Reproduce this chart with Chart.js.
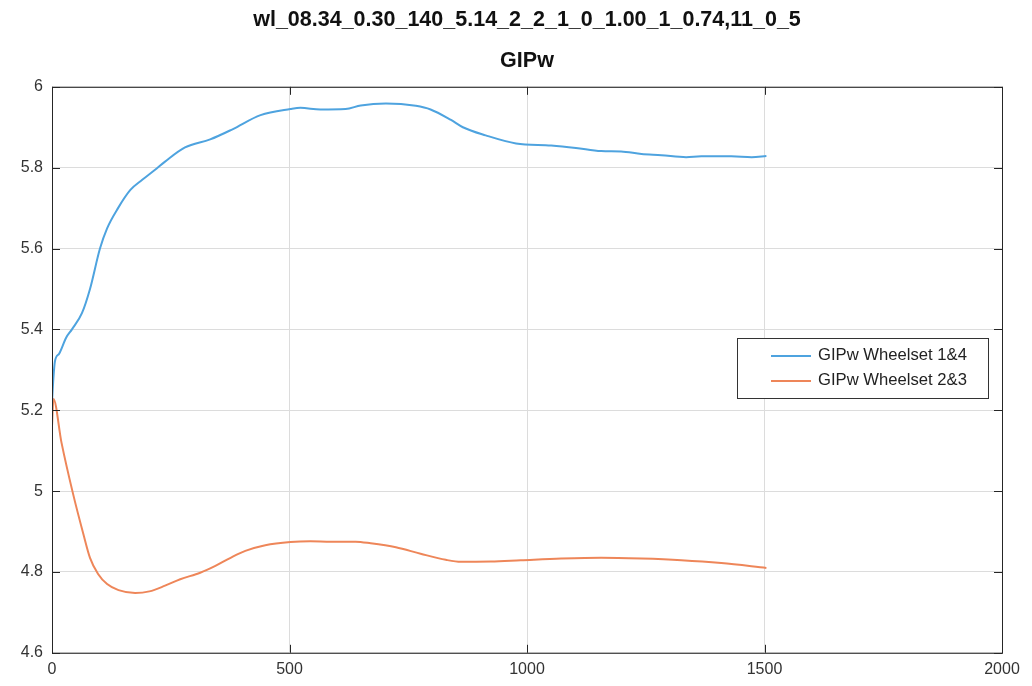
<!DOCTYPE html>
<html>
<head>
<meta charset="utf-8">
<script src="https://cdn.jsdelivr.net/npm/chart.js@4"></script>
<style>
  html, body { margin: 0; padding: 0; background: #fff; }
  #wrap { width: 1032px; height: 686px; }
</style>
</head>
<body>
<div id="wrap"><canvas id="graph" width="1032" height="686"></canvas></div>
<script>
// values
const titleLines = ["wl_08.34_0.30_140_5.14_2_2_1_0_1.00_1_0.74,11_0_5", "GIPw"];
const seriesNames = ["GIPw Wheelset 1&4", "GIPw Wheelset 2&3"];
const xTicks = [0, 500, 1000, 1500, 2000];
const yTicks = [4.6, 4.8, 5, 5.2, 5.4, 5.6, 5.8, 6];

const blueX = [0, 3, 6, 15, 30, 42, 63, 80, 101, 116, 139, 165, 190, 217, 238, 280, 333, 380, 439, 502, 523, 565, 618, 650, 703, 766, 797, 840, 865, 913, 977, 1051, 1103, 1156, 1198, 1241, 1283, 1335, 1367, 1430, 1473, 1504];
const blueY = [5.22, 5.28, 5.32, 5.34, 5.38, 5.40, 5.44, 5.50, 5.60, 5.65, 5.70, 5.745, 5.77, 5.795, 5.815, 5.85, 5.87, 5.895, 5.93, 5.945, 5.948, 5.944, 5.945, 5.954, 5.959, 5.953, 5.944, 5.918, 5.90, 5.88, 5.86, 5.855, 5.849, 5.841, 5.84, 5.834, 5.831, 5.826, 5.828, 5.828, 5.826, 5.829];

const orangeX = [0, 3, 20, 45, 66, 80, 97, 116, 140, 175, 205, 238, 270, 312, 344, 376, 407, 449, 502, 544, 587, 639, 671, 724, 776, 829, 861, 924, 987, 1072, 1156, 1241, 1325, 1409, 1504];
const orangeY = [5.16, 5.228, 5.12, 4.99, 4.894, 4.835, 4.795, 4.77, 4.755, 4.748, 4.752, 4.766, 4.782, 4.798, 4.815, 4.835, 4.852, 4.866, 4.874, 4.876, 4.875, 4.875, 4.871, 4.861, 4.845, 4.83, 4.825, 4.826, 4.829, 4.833, 4.835, 4.833, 4.829, 4.822, 4.81];

const colors = ["#4ea3df", "#ee8659"];
const fontName = "'Liberation Sans', Arial, sans-serif";

function toPoints(xs, ys) {
    const pts = [];
    for (let i = 0; i < xs.length; i++) {
        pts.push({x: xs[i], y: ys[i]});
    }
    return pts;
}

// box frame, inward ticks and legend like the octave figure
const framePlugin = {
    id: "frame",
    afterDraw(chart) {
        const ctx = chart.ctx;
        const a = chart.chartArea;
        const xs = chart.scales.x, ys = chart.scales.y;
        ctx.save();
        ctx.strokeStyle = "#262626";
        ctx.lineWidth = 1;
        ctx.strokeRect(a.left + 0.5, a.top + 0.5, a.right - a.left, a.bottom - a.top);
        ctx.beginPath();
        xTicks.forEach(v => {
            const px = Math.round(xs.getPixelForValue(v)) + 0.5;
            ctx.moveTo(px, a.bottom); ctx.lineTo(px, a.bottom - 8);
            ctx.moveTo(px, a.top); ctx.lineTo(px, a.top + 8);
        });
        yTicks.forEach(v => {
            const py = Math.round(ys.getPixelForValue(v)) + 0.5;
            ctx.moveTo(a.left, py); ctx.lineTo(a.left + 8, py);
            ctx.moveTo(a.right, py); ctx.lineTo(a.right - 8, py);
        });
        ctx.stroke();

        // legend box
        const lx = 737, ly = 338, lw = 251, lh = 60;
        ctx.fillStyle = "#fff";
        ctx.fillRect(lx, ly, lw, lh);
        ctx.strokeStyle = "#333";
        ctx.strokeRect(lx + 0.5, ly + 0.5, lw, lh);
        ctx.font = "16px " + fontName;
        ctx.textBaseline = "middle";
        chart.data.datasets.forEach((ds, i) => {
            const yy = ly + 18 + i * 25;
            ctx.strokeStyle = ds.borderColor;
            ctx.lineWidth = 2;
            ctx.beginPath();
            ctx.moveTo(lx + 34, yy); ctx.lineTo(lx + 74, yy);
            ctx.stroke();
            ctx.fillStyle = "#222";
            ctx.save();
            ctx.translate(lx + 81, yy);
            ctx.scale(1.04, 1);
            ctx.fillText(ds.label, 0, 0);
            ctx.restore();
        });
        ctx.restore();
    }
};

const chart = new Chart(document.getElementById("graph"), {
    type: "line",
    data: {
        datasets: [
            {label: seriesNames[0], data: toPoints(blueX, blueY), borderColor: colors[0]},
            {label: seriesNames[1], data: toPoints(orangeX, orangeY), borderColor: colors[1]},
        ],
    },
    options: {
        responsive: false,
        animation: false,
        elements: {
            point: {radius: 0},
            line: {borderWidth: 2, cubicInterpolationMode: "monotone", fill: false},
        },
        layout: {padding: {left: 0, right: 30, top: 0, bottom: 0}},
        plugins: {
            legend: {display: false},
            tooltip: {enabled: false},
            title: {
                display: true,
                fullSize: false,
                text: titleLines,
                color: "#111",
                font: {family: fontName, size: 21.5, weight: "bold", lineHeight: 1.88},
                padding: {top: 0, bottom: 6},
            },
        },
        scales: {
            x: {
                type: "linear",
                min: 0, max: 2000,
                afterBuildTicks: s => { s.ticks = xTicks.map(v => ({value: v})); },
                grid: {color: "#dcdcdc", drawTicks: false},
                border: {display: false},
                ticks: {color: "#333", font: {family: fontName, size: 16}, padding: 7, maxRotation: 0,
                        callback: v => String(v)},
            },
            y: {
                min: 4.6, max: 6,
                afterBuildTicks: s => { s.ticks = yTicks.map(v => ({value: v})); },
                afterFit: s => { s.width = 52; },
                grid: {color: "#dcdcdc", drawTicks: false},
                border: {display: false},
                ticks: {color: "#333", font: {family: fontName, size: 16}, padding: 9,
                        callback: v => String(Math.round(v * 10) / 10)},
            },
        },
    },
    plugins: [framePlugin],
});
</script>
</body>
</html>
